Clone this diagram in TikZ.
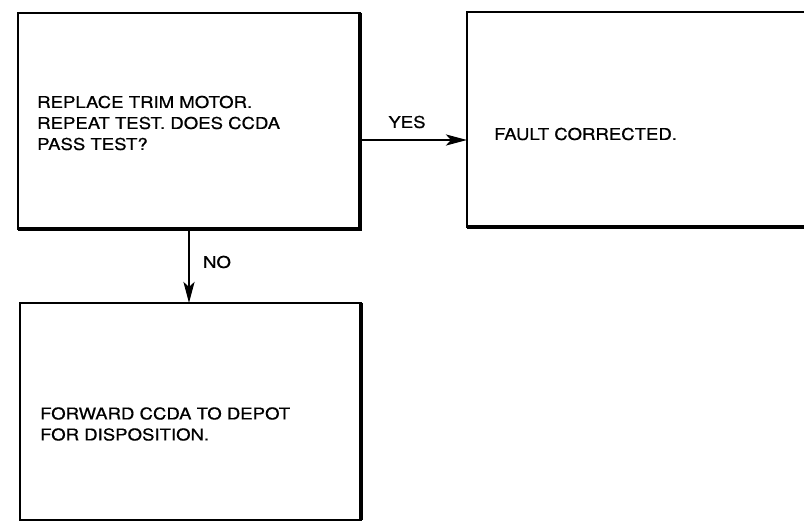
\documentclass[tikz,border=0pt]{standalone}
\usepackage{fontspec}
\setmainfont{TeX Gyre Heros}[FakeStretch=1.14, FakeBold=0.6]
\usetikzlibrary{arrows.meta}
\begin{document}
\begin{tikzpicture}[x=1pt,y=-1pt,
  box/.style={draw, line width=1.9pt, inner sep=0pt, outer sep=0pt},
  heavy/.style={line width=4.2pt},
  txt/.style={inner sep=0pt, anchor=west, align=left, font=\fontsize{16.3}{21}\selectfont},
  lbl/.style={inner sep=0pt, font=\fontsize{16.3}{21}\selectfont},
  conn/.style={line width=2.6pt, -{Stealth[length=21pt,width=11pt,inset=5pt]}}]
\useasboundingbox (0,0) rectangle (804,521);
\fill[white] (0,0) rectangle (804,521);
% boxes
\node[box, minimum width=342pt, minimum height=216pt] (b1) at (189,121) {};
\node[box, minimum width=338pt, minimum height=215pt] (b2) at (636,119.5) {};
\node[box, minimum width=341pt, minimum height=217pt] (b3) at (190.5,411.5) {};
\draw[heavy] (b1.north east) -- (b1.south east) -- (b1.south west);
\draw[heavy] (b2.south east) -- (b2.south west);
\draw[heavy] (b3.north east) -- (b3.south east);
% texts
\node[txt] (t1) at (37,123) {REPLACE TRIM MOTOR.\\REPEAT TEST. DOES CCDA\\PASS TEST?};
\node[txt] (t2) at (494,134) {FAULT CORRECTED.};
\node[txt] (t3) at (40,424) {FORWARD CCDA TO DEPOT\\FOR DISPOSITION.};
% connectors
\coordinate (yesstart) at ([yshift=-19pt]b1.east);
\draw[conn] (yesstart) -- (yesstart -| b2.west);
\draw[conn] (b1.south) -- (b1.south |- b3.north);
\node[lbl] (yes) at (407,122) {YES};
\node[lbl] (no) at (217,262) {NO};
\end{tikzpicture}
\end{document}
